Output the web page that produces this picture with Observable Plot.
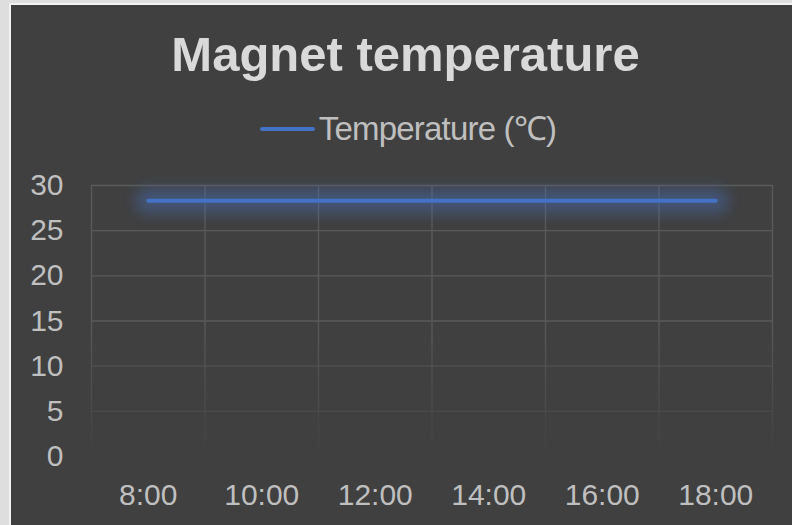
<!DOCTYPE html>
<html>
<head>
<meta charset="utf-8">
<script src="https://cdn.jsdelivr.net/npm/d3@7"></script>
<script src="https://cdn.jsdelivr.net/npm/@observablehq/plot@0.6"></script>
<style>
  html, body { margin: 0; padding: 0; }
  body { width: 792px; height: 525px; background: #dedede; overflow: hidden; position: relative;
         font-family: "Liberation Sans", Arial, sans-serif; }
  #box { position: absolute; left: 9px; top: 3px; width: 781px; height: 520px; background: #404040;
         border-top: 2px solid #f2f2f2; border-left: 2px solid #f2f2f2; }
  #title { position: absolute; left: 0; top: 25px; width: 781px; box-sizing: border-box; padding-left: 8px;
           text-align: center; font-size: 49px; line-height: 49px; font-weight: bold; color: #d9d9d9; }
  #legend { position: absolute; left: 0; top: 107px; width: 781px; box-sizing: border-box; padding-left: 13px;
            display: flex; justify-content: center; align-items: center; height: 33px; }
  #legend .sw { width: 55px; height: 4px; border-radius: 2px; background: #4472c4; margin-right: 4px; }
  #legend .lb { font-size: 33px; line-height: 33px; letter-spacing: -0.8px; color: #bfbfbf; }
  #chart { position: absolute; left: 0; top: 155px; }
</style>
</head>
<body>
<div id="box">
  <div id="title">Magnet temperature</div>
  <div id="legend"><div class="sw"></div><div class="lb">Temperature (℃)</div></div>
  <div id="chart"></div>
</div>
<script>
const times = ["8:00", "10:00", "12:00", "14:00", "16:00", "18:00"];
const temps = [28.3, 28.3, 28.3, 28.3, 28.3, 28.3];
const yTicks = [0, 5, 10, 15, 20, 25, 30];
const seriesName = "Temperature (℃)";

const data = times.map((t, i) => ({i, time: t, temp: temps[i]}));
const xIdx = times.map((_, i) => i);
const bounds = times.map((_, i) => i - 0.5).concat([times.length - 0.5]);

const plot = Plot.plot({
  width: 781,
  height: 365,
  marginTop: 25,
  marginBottom: 69,
  marginLeft: 80,
  marginRight: 20,
  style: {background: "transparent", color: "#bfbfbf", fontSize: "30px",
          fontFamily: "'Liberation Sans', Arial, sans-serif", overflow: "visible"},
  x: {domain: [-0.5, times.length - 0.5], ticks: xIdx, tickFormat: i => times[i],
      tickSize: 0, tickPadding: 27, label: null},
  y: {domain: [0, 30], ticks: yTicks, tickSize: 0, tickPadding: 28, label: null},
  marks: [
    Plot.ruleY(yTicks, {stroke: "#5a5a5a", strokeWidth: 1.3, ariaDescription: "grid"}),
    Plot.ruleX(bounds, {y1: 0, y2: 30, stroke: "#5a5a5a", strokeWidth: 1.3, ariaDescription: "grid"}),
    Plot.line(data, {x: "i", y: "temp", stroke: "#4472c4", strokeWidth: 26, strokeOpacity: 0.4,
                     strokeLinecap: "round", ariaDescription: "glow"}),
    Plot.line(data, {x: "i", y: "temp", stroke: "#4472c4", strokeWidth: 4,
                     strokeLinecap: "round", ariaDescription: seriesName})
  ]
});

const ys = plot.scale("y");
const yTop = ys.apply(15), yBot = ys.apply(0);
const ns = "http://www.w3.org/2000/svg";
const defs = document.createElementNS(ns, "defs");
defs.innerHTML = `
  <linearGradient id="gridFade" gradientUnits="userSpaceOnUse" x1="0" y1="${yTop}" x2="0" y2="${yBot}">
    <stop offset="0" stop-color="#5a5a5a" stop-opacity="1"/>
    <stop offset="1" stop-color="#5a5a5a" stop-opacity="0"/>
  </linearGradient>
  <filter id="glowBlur" filterUnits="userSpaceOnUse" x="0" y="0" width="781" height="365">
    <feGaussianBlur stdDeviation="6.5"/>
  </filter>`;
plot.insertBefore(defs, plot.firstChild);
plot.querySelectorAll('[aria-description="grid"]').forEach(g => {
  g.setAttribute("stroke", "url(#gridFade)");
  g.querySelectorAll("line").forEach(l => l.removeAttribute("stroke"));
});
const glow = plot.querySelector('[aria-description="glow"]');
if (glow) glow.setAttribute("filter", "url(#glowBlur)");

document.getElementById("chart").appendChild(plot);
</script>
</body>
</html>
